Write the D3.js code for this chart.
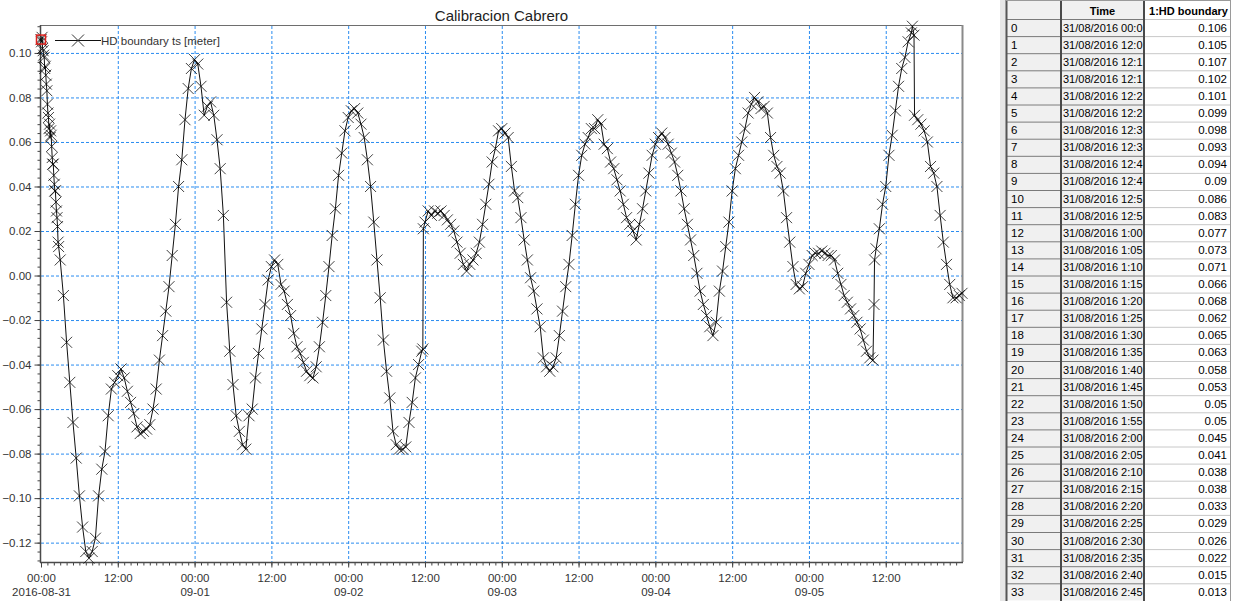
<!DOCTYPE html>
<html>
<head>
<meta charset="utf-8">
<script src="https://cdn.jsdelivr.net/npm/d3@7"></script>
<style>
  body { margin: 0; background: #fff; }
  svg { display: block; font-family: "Liberation Sans", Arial, sans-serif; }
</style>
</head>
<body>
<svg id="chart" width="1233" height="601"></svg>
<script>
// ---- Water level series "HD boundary ts" [meter] ----
// 5-minute records from 31/08/2016 00:00 (also listed in the table)
const firstValues = [0.106, 0.105, 0.107, 0.102, 0.101, 0.099, 0.098, 0.093, 0.094, 0.09,
  0.086, 0.083, 0.077, 0.073, 0.071, 0.066, 0.068, 0.062, 0.065, 0.063, 0.058, 0.053,
  0.05, 0.05, 0.045, 0.041, 0.038, 0.038, 0.033, 0.029, 0.026, 0.022, 0.015, 0.013];
const tableTimeLabels = ["31/08/2016 00:0", "31/08/2016 12:0", "31/08/2016 12:1", "31/08/2016 12:1",
  "31/08/2016 12:2", "31/08/2016 12:2", "31/08/2016 12:3", "31/08/2016 12:3", "31/08/2016 12:4",
  "31/08/2016 12:4", "31/08/2016 12:5", "31/08/2016 12:5", "31/08/2016 1:00:", "31/08/2016 1:05:",
  "31/08/2016 1:10:", "31/08/2016 1:15:", "31/08/2016 1:20:", "31/08/2016 1:25:", "31/08/2016 1:30:",
  "31/08/2016 1:35:", "31/08/2016 1:40:", "31/08/2016 1:45:", "31/08/2016 1:50:", "31/08/2016 1:55:",
  "31/08/2016 2:00:", "31/08/2016 2:05:", "31/08/2016 2:10:", "31/08/2016 2:15:", "31/08/2016 2:20:",
  "31/08/2016 2:25:", "31/08/2016 2:30:", "31/08/2016 2:35:", "31/08/2016 2:40:", "31/08/2016 2:45:"];

// half-hourly values, 31/08 from 03:00
const aug31Values = [0.007, -0.009, -0.030, -0.048, -0.066, -0.082, -0.099, -0.113, -0.124, -0.127,
  -0.124, -0.118, -0.099, -0.087, -0.079, -0.063, -0.051, -0.048, -0.045, -0.042, -0.046, -0.052,
  -0.057, -0.062, -0.068, -0.071, -0.070, -0.069, -0.067, -0.060, -0.051, -0.038, -0.027, -0.016,
  -0.005, 0.009, 0.023, 0.040, 0.052, 0.070, 0.084, 0.093];
// half-hourly values from 00:00 of each day
const sep01Values = [0.097, 0.095, 0.085, 0.072, 0.076, 0.078, 0.072, 0.061, 0.048, 0.027, -0.012,
  -0.034, -0.049, -0.063, -0.070, -0.076, -0.078, -0.063, -0.060, -0.046, -0.035, -0.024, -0.013,
  -0.002, 0.004, 0.007, 0.005, -0.004, -0.007, -0.013, -0.018, -0.026, -0.032, -0.035, -0.039,
  -0.043, -0.045, -0.046, -0.041, -0.032, -0.021, -0.009, 0.004, 0.018, 0.030, 0.045, 0.055, 0.065];
const sep02Values = [0.071, 0.074, 0.075, 0.073, 0.068, 0.062, 0.052, 0.040, 0.024, 0.007, -0.010,
  -0.029, -0.043, -0.055, -0.070, -0.076, -0.078, -0.078, -0.077, -0.066, -0.057, -0.046, -0.040,
  -0.034, 0.024, 0.029, 0.027, 0.029, 0.028, 0.029, 0.027, 0.025, 0.023, 0.020, 0.015, 0.010,
  0.005, 0.002, 0.005, 0.007, 0.010, 0.015, 0.023, 0.032, 0.041, 0.051, 0.057, 0.065];
const sep03Values = [0.066, 0.064, 0.062, 0.049, 0.038, 0.035, 0.026, 0.016, 0.007, -0.001, -0.007,
  -0.015, -0.023, -0.037, -0.041, -0.043, -0.041, -0.037, -0.027, -0.016, -0.005, 0.005, 0.018,
  0.032, 0.045, 0.054, 0.059, 0.062, 0.066, 0.066, 0.070, 0.068, 0.059, 0.057, 0.051, 0.048,
  0.043, 0.038, 0.032, 0.026, 0.023, 0.020, 0.016, 0.023, 0.030, 0.038, 0.046, 0.054];
const sep04Values = [0.059, 0.062, 0.064, 0.062, 0.059, 0.055, 0.051, 0.045, 0.038, 0.030, 0.023,
  0.016, 0.009, 0.001, -0.007, -0.013, -0.018, -0.023, -0.027, -0.021, -0.007, 0.002, 0.013,
  0.024, 0.038, 0.048, 0.054, 0.060, 0.066, 0.073, 0.077, 0.080, 0.078, 0.075, 0.076, 0.073,
  0.062, 0.054, 0.049, 0.046, 0.038, 0.026, 0.015, 0.004, -0.004, -0.006, -0.005, 0.001];
const sep05Values = [0.005, 0.009, 0.010, 0.010, 0.011, 0.010, 0.009, 0.009, 0.007, 0.001, -0.004,
  -0.009, -0.012, -0.015, -0.018, -0.021, -0.024, -0.029, -0.034, -0.037, -0.038, 0.012, 0.021,
  0.032, 0.040, 0.054, 0.063, 0.074, 0.085, 0.093, 0.098, 0.105, 0.109, 0.072, 0.070, 0.068,
  0.065, 0.060, 0.049, 0.046, 0.040, 0.027, 0.015, 0.005, -0.004, -0.010, -0.010, -0.009];
// records around the level steps and the last record
const stepTimes = ["2016-09-02 11:40", "2016-09-02 11:45", "2016-09-05 10:10", "2016-09-05 10:15",
  "2016-09-05 16:10", "2016-09-05 16:25", "2016-09-05 23:55"];
const stepValues = [-0.033, 0.021, -0.013, 0.007, 0.112, 0.108, -0.008];

const yMajorTicks = [-0.12, -0.10, -0.08, -0.06, -0.04, -0.02, 0.00, 0.02, 0.04, 0.06, 0.08, 0.10];
const dayLabels = ["2016-08-31", "09-01", "09-02", "09-03", "09-04", "09-05"];

// ---- assemble the series ----
const parse = d3.timeParse("%Y-%m-%d %H:%M");
const series = [];
firstValues.forEach((v, i) => series.push({ t: d3.timeMinute.offset(parse("2016-08-31 00:00"), 5 * i), v }));
aug31Values.forEach((v, i) => series.push({ t: d3.timeMinute.offset(parse("2016-08-31 03:00"), 30 * i), v }));
[sep01Values, sep02Values, sep03Values, sep04Values, sep05Values].forEach((arr, d) => {
  const start = d3.timeDay.offset(parse("2016-09-01 00:00"), d);
  arr.forEach((v, i) => series.push({ t: d3.timeMinute.offset(start, 30 * i), v }));
});
stepTimes.forEach((s, i) => series.push({ t: parse(s), v: stepValues[i] }));
series.sort((a, b) => a.t - b.t);

// ---- layout ----
const svg = d3.select("#chart");
const P = { left: 41, top: 26, right: 962, bottom: 562 };
const x = d3.scaleTime()
  .domain([parse("2016-08-31 00:00"), parse("2016-09-05 23:55")])
  .range([P.left, P.right]);
const y = d3.scaleLinear().domain([-0.1287, 0.1121]).range([P.bottom, P.top]);

// title
svg.append("text").attr("x", (P.left + P.right) / 2).attr("y", 21)
  .attr("text-anchor", "middle").attr("font-size", 15).attr("fill", "#222")
  .text("Calibracion Cabrero");

// ---- grid (dashed blue) ----
const gridColor = "#2a8cf0";
const xMajor = d3.timeHour.every(12).range(x.domain()[0], d3.timeMinute.offset(x.domain()[1], 1));
svg.append("g")
  .attr("transform", `translate(0,${P.top})`)
  .call(d3.axisBottom(x).tickValues(xMajor.filter(d => x(d) > P.left + 1))
    .tickSize(P.bottom - P.top).tickFormat(""))
  .call(g => g.select(".domain").remove())
  .call(g => g.selectAll(".tick line").attr("stroke", gridColor).attr("stroke-dasharray", "3,2"));
svg.append("g")
  .attr("transform", `translate(${P.left},0)`)
  .call(d3.axisRight(y).tickValues(yMajorTicks).tickSize(P.right - P.left).tickFormat(""))
  .call(g => g.select(".domain").remove())
  .call(g => g.selectAll(".tick line").attr("stroke", gridColor).attr("stroke-dasharray", "3,2"));

// ---- frame ----
svg.append("line").attr("x1", P.left).attr("x2", P.right + 1).attr("y1", P.top - 0.5).attr("y2", P.top - 0.5)
  .attr("stroke", "#6e6e6e").attr("stroke-width", 1);
svg.append("line").attr("x1", P.right + 0.5).attr("x2", P.right + 0.5).attr("y1", P.top - 1).attr("y2", P.bottom)
  .attr("stroke", "#8a8a8a").attr("stroke-width", 2);

// ---- y axis ----
const yAxisG = svg.append("g").attr("transform", `translate(${P.left - 0.5},0)`);
yAxisG.call(d3.axisLeft(y).tickValues(d3.range(-32, 29).map(i => i * 0.004)).tickSize(3).tickFormat(""))
  .call(g => g.select(".domain").remove())
  .call(g => g.selectAll(".tick line").attr("stroke", "#444"));
const yLab = svg.append("g").attr("transform", `translate(${P.left - 0.5},0)`)
  .call(d3.axisLeft(y).tickValues(yMajorTicks).tickSize(6).tickPadding(3).tickFormat(d3.format(".2f")));
yLab.select(".domain").remove();
yLab.selectAll(".tick line").attr("stroke", "#444");
yLab.selectAll(".tick text").attr("font-size", 11.5).attr("fill", "#333")
  .attr("font-family", "'Liberation Sans', Arial, sans-serif");
svg.append("line").attr("x1", P.left - 0.5).attr("x2", P.left - 0.5).attr("y1", P.top - 1).attr("y2", P.bottom + 1)
  .attr("stroke", "#4a4a4a").attr("stroke-width", 1.5);

// ---- x axis ----
const xMinor = d3.timeHour.every(1).range(x.domain()[0], d3.timeMinute.offset(x.domain()[1], 1));
svg.append("g").attr("transform", `translate(0,${P.bottom + 0.5})`)
  .call(d3.axisBottom(x).tickValues(xMinor).tickSize(3).tickFormat(""))
  .call(g => g.select(".domain").remove())
  .call(g => g.selectAll(".tick line").attr("stroke", "#444"));
const xLab = svg.append("g").attr("transform", `translate(0,${P.bottom + 0.5})`)
  .call(d3.axisBottom(x).tickValues(xMajor).tickSize(5).tickFormat(""));
xLab.select(".domain").remove();
xLab.selectAll(".tick line").attr("stroke", "#444");
xLab.selectAll(".tick").each(function (d) {
  const g = d3.select(this);
  const t = g.append("text").attr("text-anchor", "middle").attr("font-size", 11.5)
    .attr("fill", "#333").attr("font-family", "'Liberation Sans', Arial, sans-serif");
  t.append("tspan").attr("x", 0).attr("y", 19.5).text(d3.timeFormat("%H:%M")(d));
  if (d.getHours() === 0) {
    t.append("tspan").attr("x", 0).attr("y", 33.5).text(dayLabels[d3.timeDay.count(x.domain()[0], d)]);
  }
});
svg.append("line").attr("x1", P.left - 1).attr("x2", P.right + 1).attr("y1", P.bottom + 0.5).attr("y2", P.bottom + 0.5)
  .attr("stroke", "#4a4a4a").attr("stroke-width", 1.5);

// ---- series: line with x markers ----
const line = d3.line().x(d => x(d.t)).y(d => y(d.v));
svg.append("path").datum(series).attr("d", line)
  .attr("fill", "none").attr("stroke", "#111").attr("stroke-width", 1);
const cross = "M-5.5,-5.5L5.5,5.5M-5.5,5.5L5.5,-5.5";
svg.append("g").selectAll("path").data(series).join("path")
  .attr("transform", d => `translate(${x(d.t)},${y(d.v)})`)
  .attr("d", cross).attr("fill", "none").attr("stroke", "#000")
  .attr("stroke-width", 1).attr("stroke-opacity", 0.75);

// selected record highlight
svg.append("rect")
  .attr("x", x(series[0].t) - 4.5).attr("y", y(series[0].v) - 4.5)
  .attr("width", 9).attr("height", 9)
  .attr("fill", "none").attr("stroke", "#e0201c").attr("stroke-width", 1.5);

// ---- legend ----
const lg = svg.append("g").attr("transform", "translate(55,40.5)");
lg.append("line").attr("x1", 0).attr("x2", 46).attr("y1", 0).attr("y2", 0).attr("stroke", "#111");
lg.append("path").attr("transform", "translate(23,0)").attr("d", "M-6,-6L6,6M-6,6L6,-6")
  .attr("fill", "none").attr("stroke", "#333").attr("stroke-width", 1);
lg.append("text").attr("x", 46).attr("y", 4.5).attr("font-size", 11.5).attr("fill", "#333")
  .text("HD boundary ts [meter]");

// ---- data table ----
const T = { split: 1000, idx: 1006, time: 1060, val: 1145, end: 1230, headH: 19, rowH: 17.1 };
const tg = svg.append("g").attr("font-size", 11.5).attr("fill", "#000");
tg.append("rect").attr("x", T.split).attr("y", 0).attr("width", T.idx - T.split).attr("height", 601).attr("fill", "#e6e6e6");
// header
tg.append("rect").attr("x", T.idx).attr("y", 0).attr("width", T.val - T.idx).attr("height", T.headH).attr("fill", "#f0f0f0");
tg.append("rect").attr("x", T.val).attr("y", 0).attr("width", T.end - T.val).attr("height", T.headH).attr("fill", "#fff");
tg.append("text").attr("x", (T.time + T.val) / 2).attr("y", 14.5).attr("text-anchor", "middle")
  .attr("font-size", 11).attr("font-weight", "bold").text("Time");
tg.append("text").attr("x", (T.val + T.end) / 2 + 1).attr("y", 14.5).attr("text-anchor", "middle")
  .attr("font-size", 11).attr("font-weight", "bold").text("1:HD boundary");
// rows
const rows = tg.selectAll("g.row").data(firstValues).join("g")
  .attr("transform", (d, i) => `translate(0,${T.headH + i * T.rowH})`);
rows.append("rect").attr("x", T.idx).attr("y", 0).attr("width", T.val - T.idx).attr("height", T.rowH).attr("fill", "#f0f0f0");
rows.append("rect").attr("x", T.val).attr("y", 0).attr("width", T.end - T.val).attr("height", T.rowH).attr("fill", "#fff");
rows.append("line").attr("x1", T.idx).attr("x2", T.val).attr("y1", 0.5).attr("y2", 0.5).attr("stroke", "#7a7a7a");
rows.append("line").attr("x1", T.val).attr("x2", T.end).attr("y1", 0.5).attr("y2", 0.5).attr("stroke", "#c8c8c8");
rows.append("text").attr("x", T.idx + 5).attr("y", 12.5).text((d, i) => i);
rows.append("text").attr("x", T.time + 3).attr("y", 12.5).attr("font-size", 11).text((d, i) => tableTimeLabels[i]);
rows.append("text").attr("x", T.end - 3).attr("y", 12.5).attr("text-anchor", "end").text(d => d);
// column borders
[[T.idx + 0.5, "#555", 2], [T.time + 1, "#4a4a4a", 2], [T.val - 1, "#4a4a4a", 2], [T.end + 0.5, "#9a9a9a", 1]]
  .forEach(([cx, c, w]) => tg.append("line").attr("x1", cx).attr("x2", cx).attr("y1", 0).attr("y2", 601)
    .attr("stroke", c).attr("stroke-width", w));
tg.append("line").attr("x1", T.idx).attr("x2", T.end).attr("y1", 0.5).attr("y2", 0.5).attr("stroke", "#9a9a9a");
</script>
</body>
</html>
